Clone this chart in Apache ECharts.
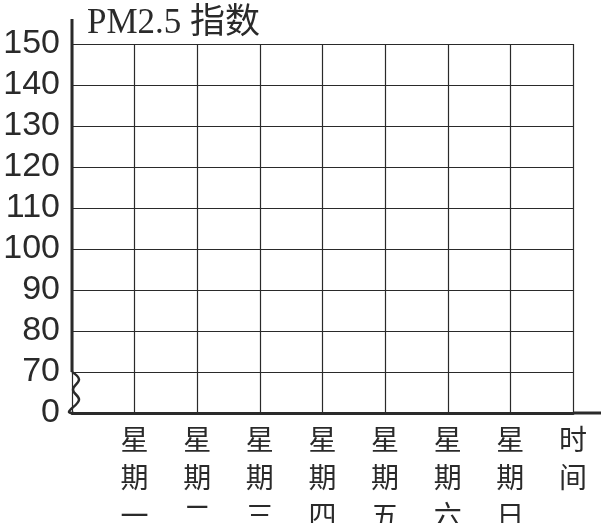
<!DOCTYPE html>
<html>
<head>
    <meta charset="utf-8">
    <title>PM2.5 指数</title>
    <script src="https://cdn.jsdelivr.net/npm/echarts@6/dist/echarts.min.js"></script>
</head>
<body style="margin:0;background:#fff;">
    <div id="main" style="width:602px;height:523px;"></div>
    <script type="text/javascript">
        // 横轴：第一个位置是原点（空），最后一个是"时间"
        var days = ['星期一', '星期二', '星期三', '星期四', '星期五', '星期六', '星期日'];
        var xLabels = [''].concat(days, ['时间']);
        // 纵轴刻度，0 和 70 之间是折断
        var yTicks = [0, 70, 80, 90, 100, 110, 120, 130, 140, 150];
        var yMin = 60, yMax = 150, yStep = 10;
        // 空白统计图，没有数据
        var pmValues = [];

        var ink = '#2a2a2a';
        var chart = echarts.init(document.getElementById('main'));

        var option = {
            animation: false,
            title: {
                text: 'PM2.5 指数',
                left: 82,
                top: 1,
                textStyle: {
                    color: ink,
                    fontSize: 35,
                    fontWeight: 'normal',
                    fontFamily: 'Liberation Serif, Noto Sans CJK SC'
                }
            },
            grid: { left: 72, right: 29, top: 44, bottom: 110, outerBoundsMode: 'none', containLabel: false },
            xAxis: {
                type: 'category',
                data: xLabels,
                boundaryGap: false,
                axisLine: { show: true, lineStyle: { color: ink, width: 3 } },
                axisTick: { show: false },
                splitLine: { show: true, interval: 0, lineStyle: { color: ink, width: 1.2 } },
                axisLabel: {
                    interval: 0,
                    margin: 7,
                    color: ink,
                    fontSize: 28,
                    lineHeight: 38,
                    fontFamily: 'Noto Sans CJK SC',
                    formatter: function (v) { return v.split('').join('\n'); }
                }
            },
            yAxis: {
                type: 'value',
                min: yMin,
                max: yMax,
                interval: yStep,
                axisLine: { show: false },
                axisTick: { show: false },
                splitLine: { show: true, lineStyle: { color: ink, width: 1.2 } },
                axisLabel: {
                    margin: 12,
                    color: ink,
                    fontSize: 34,
                    fontFamily: 'Liberation Sans',
                    formatter: function (v) {
                        var i = Math.round((v - yMin) / yStep);
                        return yTicks[i] === undefined ? '' : String(yTicks[i]);
                    }
                }
            },
            series: [{ type: 'line', data: pmValues }]
        };
        chart.setOption(option);

        // 纵轴线、折断符号和横轴延长部分
        var p150 = chart.convertToPixel({ gridIndex: 0 }, [0, yMax]);
        var p70 = chart.convertToPixel({ gridIndex: 0 }, [0, yMin + yStep]);
        var p0 = chart.convertToPixel({ gridIndex: 0 }, [0, yMin]);
        var pEnd = chart.convertToPixel({ gridIndex: 0 }, [xLabels.length - 1, yMin]);
        var h = p0[1] - p70[1];
        var ax = p0[0];
        chart.setOption({
            graphic: [
                {
                    type: 'line',
                    shape: { x1: ax, y1: p150[1] - 25, x2: ax, y2: p70[1] },
                    style: { stroke: ink, lineWidth: 3 }
                },
                {
                    type: 'polyline',
                    shape: {
                        smooth: 0.4,
                        points: [
                            [ax, p70[1]],
                            [ax + 7, p70[1] + h * 0.18],
                            [ax + 1, p70[1] + h * 0.43],
                            [ax + 7, p70[1] + h * 0.68],
                            [ax - 3, p70[1] + h * 0.97],
                            [ax + 2, p0[1]]
                        ]
                    },
                    style: { stroke: ink, lineWidth: 2.5, fill: null }
                },
                {
                    type: 'line',
                    shape: { x1: pEnd[0], y1: pEnd[1], x2: pEnd[0] + 28, y2: pEnd[1] },
                    style: { stroke: ink, lineWidth: 3 }
                }
            ]
        });
    </script>
</body>
</html>
